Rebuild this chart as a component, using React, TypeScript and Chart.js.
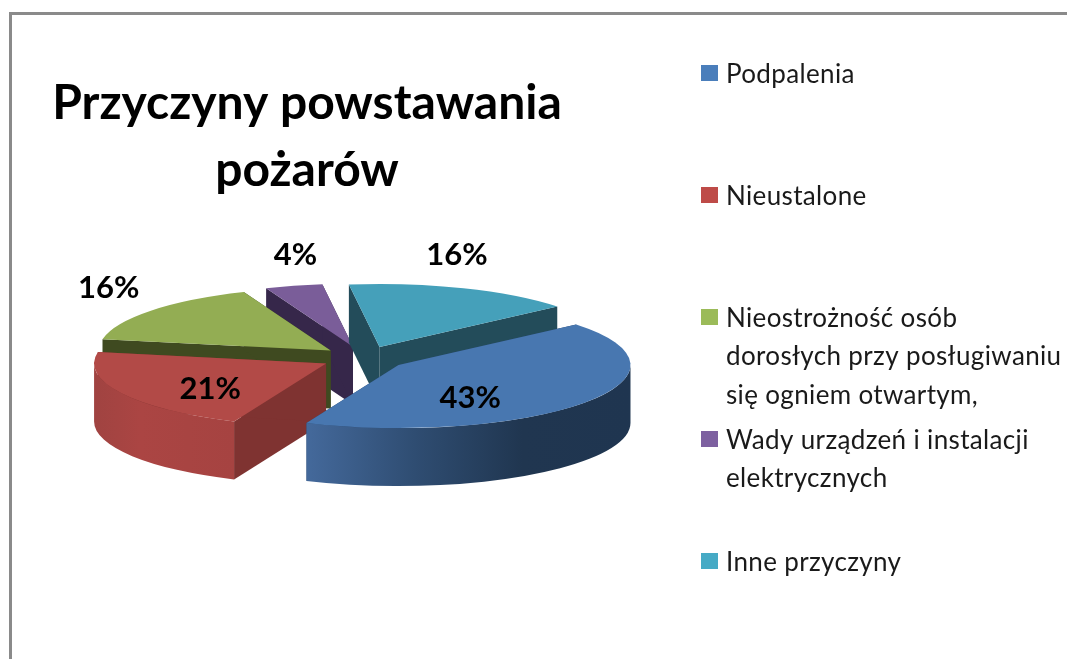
import React, { useEffect, useRef } from "react";
import { Chart, registerables } from "chart.js";

Chart.register(...registerables);

const titleLines = ["Przyczyny powstawania", "pożarów"];
const categories = [
  "Podpalenia",
  "Nieustalone",
  "Nieostrożność osób dorosłych przy posługiwaniu się ogniem otwartym,",
  "Wady urządzeń i instalacji elektrycznych",
  "Inne przyczyny",
];
const legendLines = [
  ["Podpalenia"],
  ["Nieustalone"],
  ["Nieostrożność osób", "dorosłych przy posługiwaniu", "się ogniem otwartym,"],
  ["Wady urządzeń i instalacji", "elektrycznych"],
  ["Inne przyczyny"],
];
const shares = [42.6, 21.4, 16, 4, 16];

const topColors = ["#4877b0", "#b24a47", "#93ad53", "#7a5d99", "#45a0ba"];
const legendColors = ["#4a7ebb", "#be4b48", "#9bbb59", "#7d60a0", "#46aac5"];
const sideColors = ["#2a4468", "#7f3331", "#3f4a20", "#36274a", "#234c5a"];
const wallStops: string[][] = [
  ["#44699b", "#2f4d72", "#203650", "#1f3550"],
  ["#a04341", "#ab4543", "#a84442", "#a64341"],
  ["#3f4a20", "#3f4a20"],
  ["#36274a", "#36274a"],
  ["#234c5a", "#234c5a"],
];
const labelNudges = [
  [-40, 10],
  [7, 8],
  [-114, -39],
  [-22, -55],
  [27, -57],
];

const PIE_X = 364;
const PIE_Y = 358;
const TILT = 0.272;
const DEPTH = 58;
const RADIUS = 232;
const EXPLODE = 43;
const FONT = "Lato, Carlito, Calibri, sans-serif";

const pie3d = {
  id: "pie3d",
  afterLayout(chart: any) {
    const box = chart.titleBlock;
    if (box) {
      box.left = 0;
      box.right = 614;
    }
  },
  beforeDatasetsDraw(chart: any) {
    const ctx: CanvasRenderingContext2D = chart.ctx;
    const arcs: any[] = chart.getDatasetMeta(0).data;
    const order = arcs
      .map((arc, i) => ({ arc, i, mid: (arc.startAngle + arc.endAngle) / 2 }))
      .sort((a, b) => Math.sin(a.mid) - Math.sin(b.mid));

    for (const { arc, i, mid } of order) {
      const r = arc.outerRadius;
      const cx = PIE_X + Math.cos(mid) * EXPLODE;
      const cy = PIE_Y + Math.sin(mid) * EXPLODE * TILT;

      // radial faces
      ctx.fillStyle = sideColors[i];
      for (const a of [arc.startAngle, arc.endAngle]) {
        const rx = cx + Math.cos(a) * r;
        const ry = cy + Math.sin(a) * r * TILT;
        ctx.beginPath();
        ctx.moveTo(cx, cy);
        ctx.lineTo(rx, ry);
        ctx.lineTo(rx, ry + DEPTH);
        ctx.lineTo(cx, cy + DEPTH);
        ctx.closePath();
        ctx.fill();
      }

      // outer rim, front-facing part only
      for (const base of [-2 * Math.PI, 0, 2 * Math.PI]) {
        const a0 = Math.max(arc.startAngle, base);
        const a1 = Math.min(arc.endAngle, base + Math.PI);
        if (a1 <= a0) continue;
        const x0 = cx + Math.cos(a1) * r;
        const x1 = cx + Math.cos(a0) * r;
        const grad = ctx.createLinearGradient(x0, 0, x1, 0);
        const stops = wallStops[i];
        stops.forEach((c, s) => grad.addColorStop(s / (stops.length - 1), c));
        ctx.fillStyle = grad;
        ctx.beginPath();
        ctx.ellipse(cx, cy, r, r * TILT, 0, a0, a1, false);
        ctx.ellipse(cx, cy + DEPTH, r, r * TILT, 0, a1, a0, true);
        ctx.closePath();
        ctx.fill();
      }

      // top face: the library's own arc, squashed and pulled out
      ctx.save();
      ctx.translate(PIE_X, PIE_Y);
      ctx.scale(1, TILT);
      ctx.translate(Math.cos(mid) * EXPLODE, Math.sin(mid) * EXPLODE);
      ctx.translate(-arc.x, -arc.y);
      arc.draw(ctx);
      ctx.restore();
    }
    return false;
  },
  afterDraw(chart: any) {
    const ctx: CanvasRenderingContext2D = chart.ctx;
    const arcs: any[] = chart.getDatasetMeta(0).data;
    const values: number[] = chart.data.datasets[0].data;
    const total = values.reduce((a, b) => a + b, 0);

    ctx.save();
    ctx.textBaseline = "middle";
    ctx.textAlign = "center";
    ctx.fillStyle = "#000000";
    ctx.font = `bold 31px ${FONT}`;
    arcs.forEach((arc, i) => {
      const mid = (arc.startAngle + arc.endAngle) / 2;
      const off = EXPLODE + arc.outerRadius * 0.6;
      const x = PIE_X + Math.cos(mid) * off + labelNudges[i][0];
      const y = PIE_Y + Math.sin(mid) * off * TILT + labelNudges[i][1];
      ctx.fillText(`${Math.round((values[i] / total) * 100)}%`, x, y);
    });

    ctx.textAlign = "left";
    ctx.font = `400 26px ${FONT}`;
    (ctx as any).letterSpacing = "0.35px";
    legendLines.forEach((lines, i) => {
      const y = 73 + 122 * i;
      ctx.fillStyle = legendColors[i];
      ctx.fillRect(701, y - 8, 17, 16);
      ctx.fillStyle = "#1a1a1a";
      lines.forEach((line, j) => ctx.fillText(line, 726, y + 1.5 + j * 38.5));
    });
    ctx.restore();
  },
};

export default function App() {
  const ref = useRef<HTMLCanvasElement>(null);
  useEffect(() => {
    const chart = new Chart(ref.current as HTMLCanvasElement, {
      type: "pie",
      data: {
        labels: categories,
        datasets: [
          {
            data: shares,
            backgroundColor: topColors,
            borderWidth: 0,
          },
        ],
      },
      options: {
        responsive: false,
        animation: false,
        rotation: 50,
        radius: RADIUS,
        layout: { padding: { top: 70, left: 0, right: 0, bottom: 0 } },
        plugins: {
          legend: { display: false },
          tooltip: { enabled: false },
          title: {
            display: true,
            text: titleLines,
            color: "#000000",
            padding: 0,
            font: { family: FONT, size: 48, weight: "bold", lineHeight: 1.4 },
          },
        },
      },
      plugins: [pie3d],
    } as any);
    return () => chart.destroy();
  }, []);

  return (
    <div style={{ position: "fixed", left: 0, top: 0, width: 1067, height: 659, overflow: "hidden", background: "#fff" }}>
      <div
        style={{
          position: "absolute",
          left: 9,
          top: 12,
          width: 1200,
          height: 800,
          borderLeft: "3px solid #8a8a8a",
          borderTop: "3px solid #8a8a8a",
        }}
      />
      <canvas
        ref={ref}
        width={1067}
        height={659}
        style={{ position: "absolute", left: 0, top: 0, filter: "blur(0.5px)" }}
      />
    </div>
  );
}
